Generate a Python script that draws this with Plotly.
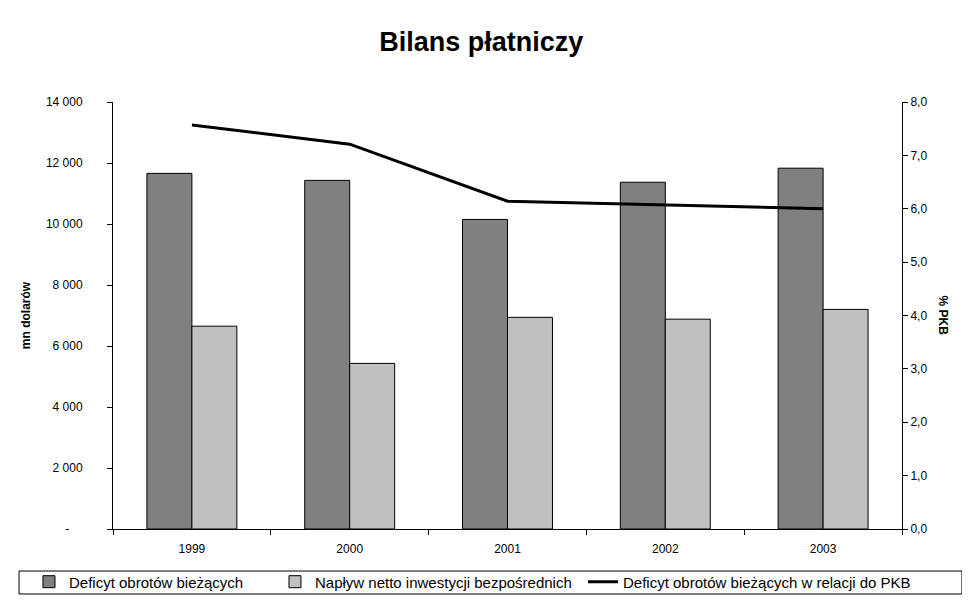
import plotly.graph_objects as go

# Dane z wykresu
years = ["1999", "2000", "2001", "2002", "2003"]
deficyt = [11660, 11430, 10150, 11370, 11830]
inwestycje = [6650, 5430, 6940, 6880, 7200]
deficyt_pkb = [7.57, 7.21, 6.14, 6.07, 6.0]

left_ticks = [0, 2000, 4000, 6000, 8000, 10000, 12000, 14000]
left_labels = ["-\u00a0\u00a0\u00a0\u00a0", "2 000", "4 000", "6 000", "8 000", "10 000", "12 000", "14 000"]
right_ticks = [0, 1, 2, 3, 4, 5, 6, 7, 8]
right_labels = ["0,0", "1,0", "2,0", "3,0", "4,0", "5,0", "6,0", "7,0", "8,0"]

font = "Arial, Liberation Sans, sans-serif"

fig = go.Figure()
fig.add_trace(go.Bar(
    x=years, y=deficyt, name="Deficyt obrotów bieżących",
    marker=dict(color="#808080", line=dict(color="black", width=1)),
    legend="legend", showlegend=True,
))
fig.add_trace(go.Bar(
    x=years, y=inwestycje, name="Napływ netto inwestycji bezpośrednich",
    marker=dict(color="#C0C0C0", line=dict(color="black", width=1)),
    legend="legend2", showlegend=True,
))
fig.add_trace(go.Scatter(
    x=years, y=deficyt_pkb, name="Deficyt obrotów bieżących w relacji do PKB",
    mode="lines", line=dict(color="black", width=3), yaxis="y2",
    legend="legend3", showlegend=True,
))

# one legend per entry so the items can sit where they are in the original
leg = dict(orientation="h", xanchor="left", y=-0.124, yanchor="middle",
           bgcolor="rgba(0,0,0,0)", borderwidth=0, font=dict(size=15))

# page body has an 8px margin, so the figure is a bit smaller than the window
fig.update_layout(
    width=962, height=596,
    margin=dict(l=105, r=68, t=94, b=75, autoexpand=False),
    paper_bgcolor="white", plot_bgcolor="white",
    font=dict(family=font, size=12, color="black"),
    showlegend=True,
    title=dict(text="<b>Bilans płatniczy</b>", x=0.492, xanchor="center",
               y=0.943, yanchor="middle", font=dict(size=27)),
    barmode="group", bargap=0.43, bargroupgap=0,
    xaxis=dict(
        showline=True, linecolor="black", linewidth=1,
        ticks="outside", tickson="boundaries", ticklen=5, tickcolor="black",
        showgrid=False, tickfont=dict(size=12), ticklabelstandoff=9,
    ),
    yaxis=dict(
        range=[0, 14000], tickvals=left_ticks, ticktext=left_labels,
        showline=True, linecolor="black", linewidth=1,
        ticks="outside", ticklen=5, tickcolor="black",
        showgrid=False, zeroline=False, ticklabelstandoff=22,
        title=dict(text="<b>mn dolarów</b>", font=dict(size=12), standoff=12),
    ),
    yaxis2=dict(
        range=[0, 8], tickvals=right_ticks, ticktext=right_labels,
        overlaying="y", side="right",
        showline=True, linecolor="black", linewidth=1,
        ticks="outside", ticklen=5, tickcolor="black",
        showgrid=False, zeroline=False,
    ),
    legend=dict(leg, x=-0.1065),
    legend2=dict(leg, x=0.2053),
    legend3=dict(leg, x=0.5957),
    shapes=[dict(
        type="rect", xref="paper", yref="paper",
        x0=-0.1191, x1=1.076, y0=-0.1522, y1=-0.0984,
        line=dict(color="black", width=1), fillcolor="rgba(0,0,0,0)",
    )],
    annotations=[dict(
        text="<b>% PKB</b>", textangle=90, showarrow=False,
        xref="paper", yref="paper", x=1.052, y=0.5,
        xanchor="center", yanchor="middle", font=dict(size=12),
    )],
)

fig.write_html("out.html")
